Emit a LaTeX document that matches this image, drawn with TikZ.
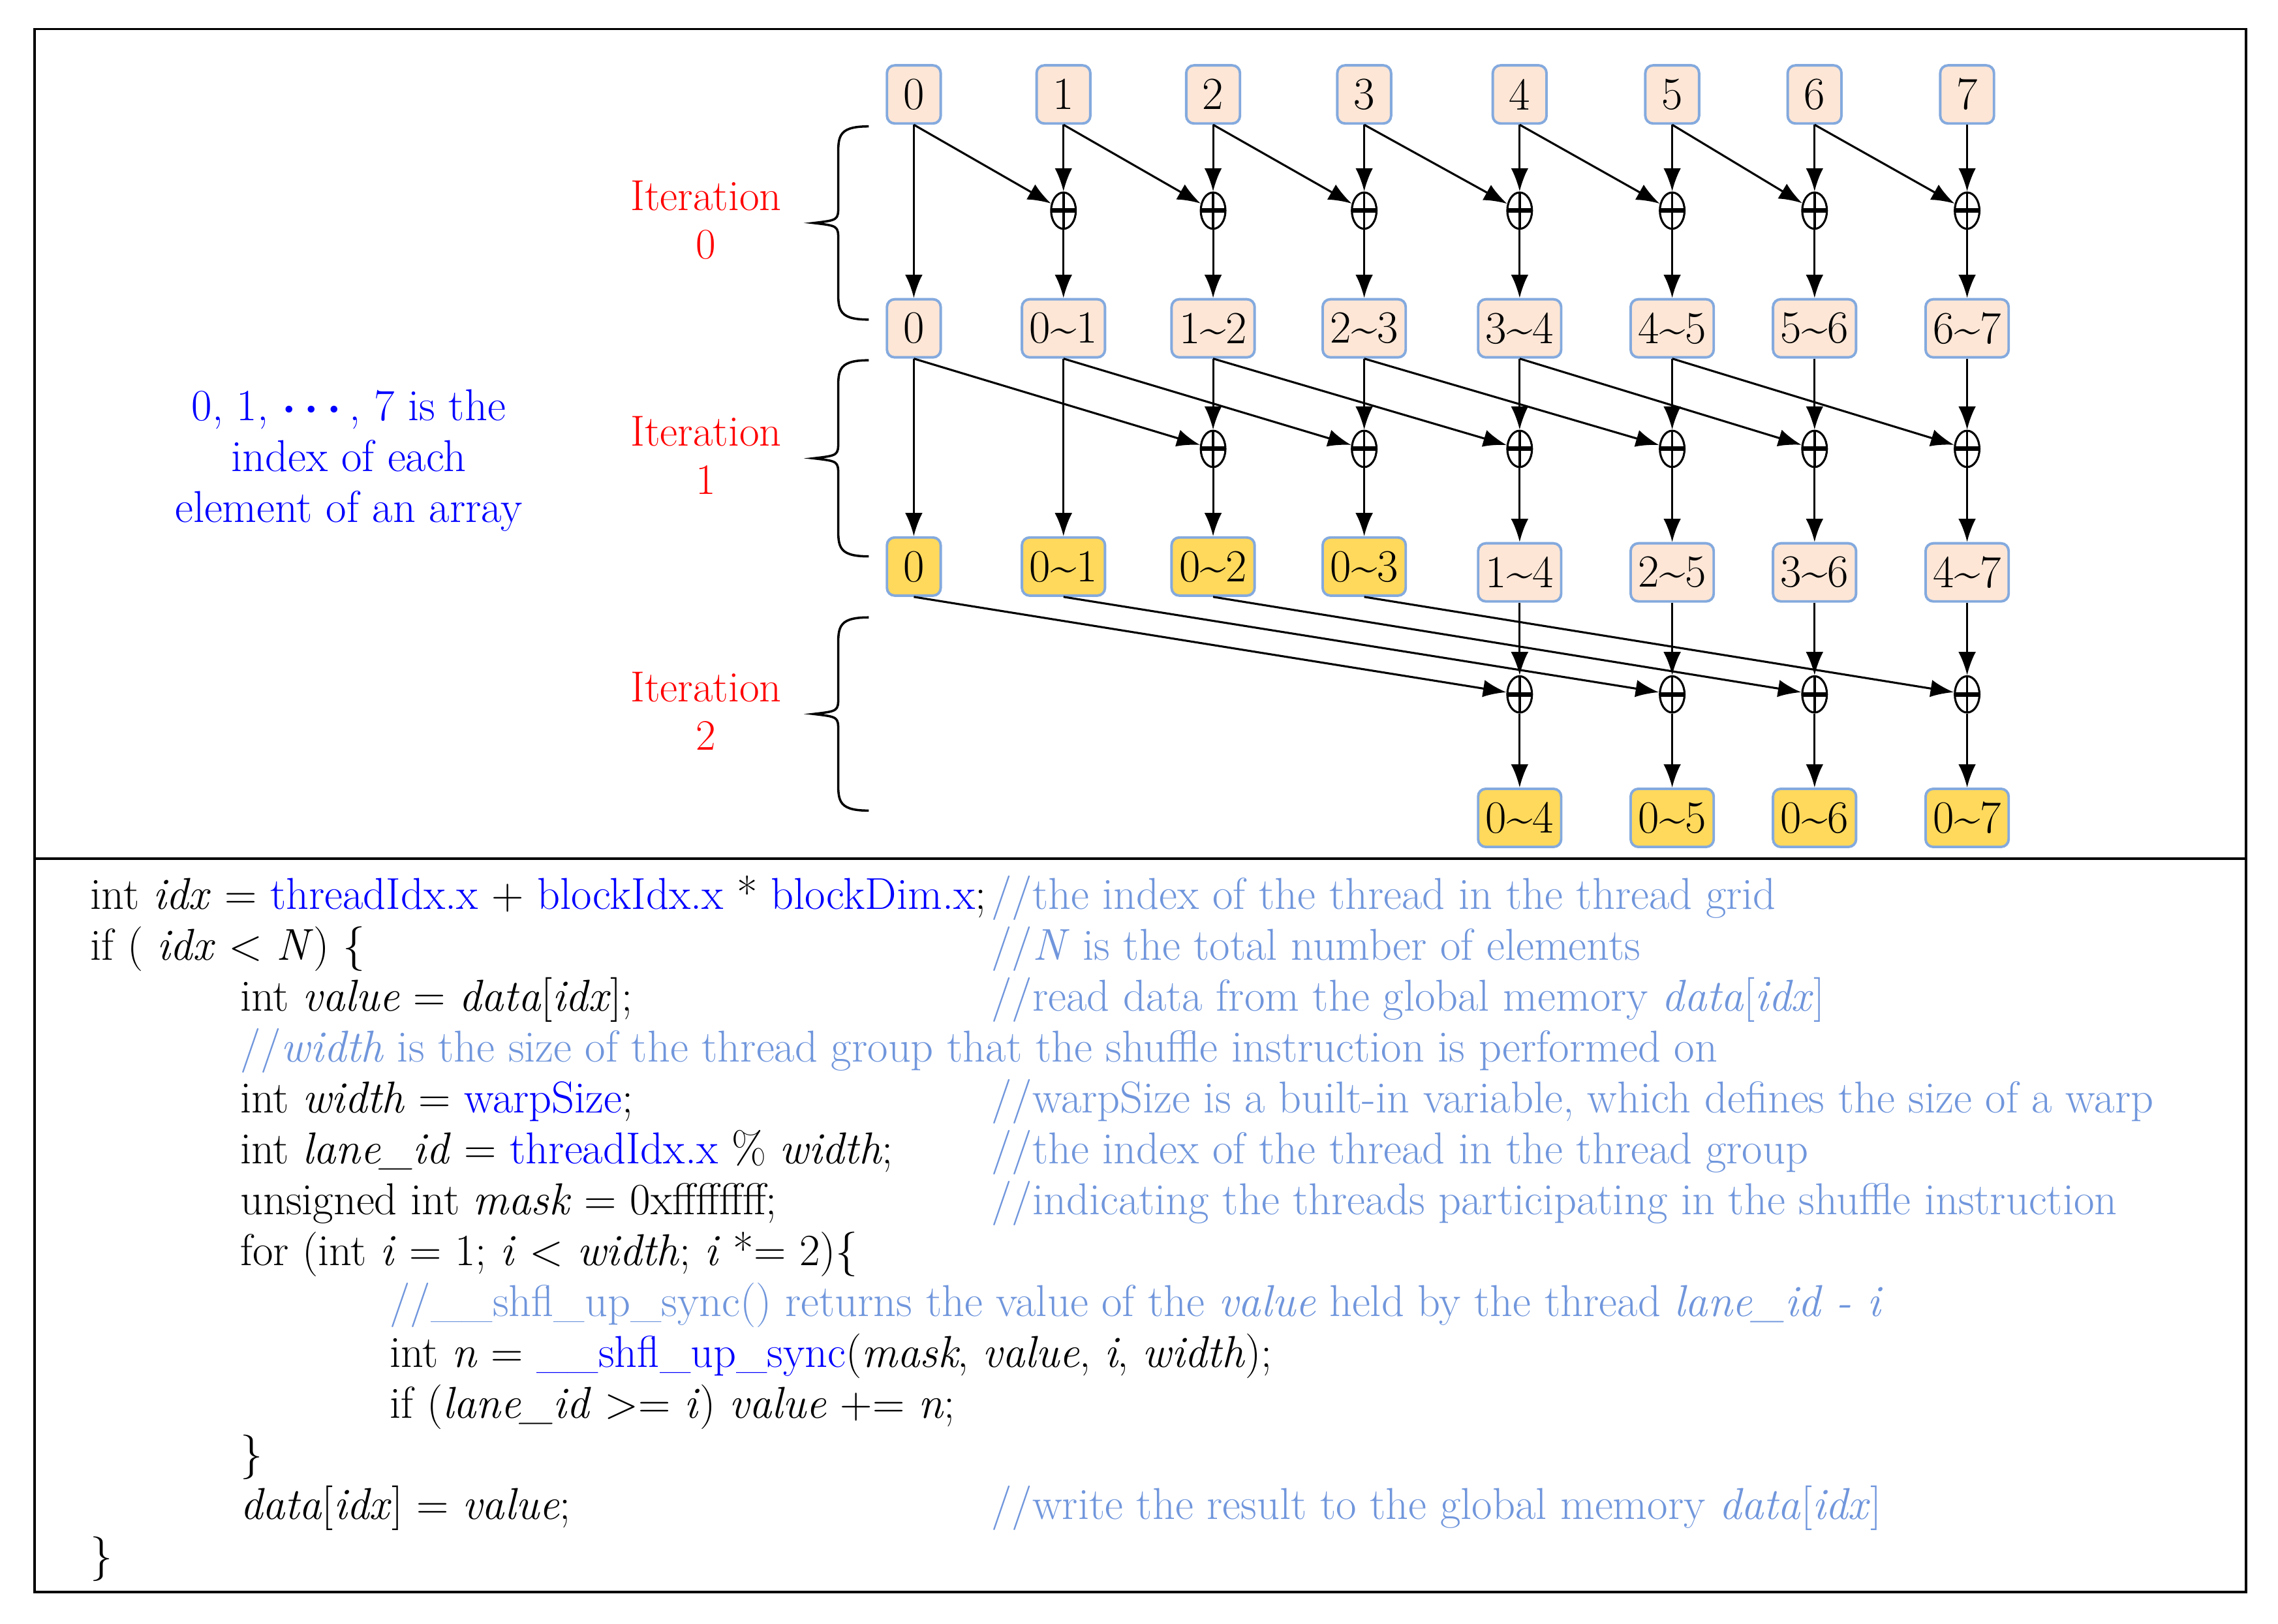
\documentclass[tikz,border=0pt]{standalone}
\usepackage{amsmath}
\usetikzlibrary{arrows.meta,shapes.geometric}
\definecolor{peach}{RGB}{253,230,214}
\definecolor{gold}{RGB}{255,217,92}
\definecolor{edgeblue}{RGB}{132,170,222}
\definecolor{cmt}{RGB}{112,150,220}
\definecolor{kw}{RGB}{0,0,255}
\begin{document}
\begin{tikzpicture}[x=0.02cm,y=-0.02cm,
  cell/.style={draw=edgeblue,line width=1pt,fill=peach,rounded corners=3pt,minimum width=0.74cm,minimum height=0.8cm,inner sep=3pt,font=\fontsize{18}{18}\selectfont},
  done/.style={cell,fill=gold},
  plus/.style={ellipse,draw,line width=0.8pt,minimum width=0.34cm,minimum height=0.5cm,inner sep=0pt,
    path picture={\draw[line width=1.8pt] ([xshift=-0.16cm]path picture bounding box.center) -- ([xshift=0.16cm]path picture bounding box.center);
      \draw[line width=0.9pt] ([yshift=-0.25cm]path picture bounding box.center) -- ([yshift=0.25cm]path picture bounding box.center);}},
  arr/.style={-{Latex[length=3.2mm,width=2.4mm]},line width=0.8pt},
  iter/.style={red,align=center,font=\fontsize{17}{19}\selectfont},
  code/.style={anchor=base west,inner sep=0pt,font=\fontsize{17.5}{20}\selectfont},
  note/.style={code,text=cmt}]
\useasboundingbox (0,0) rectangle (1568,1117.5);
\draw[line width=1pt] (24,20) rectangle (1546,1096);
\draw[line width=1pt] (24,591) -- (1546,591);
% columns
\foreach \i/\x in {0/629,1/732,2/835,3/939,4/1046,5/1151,6/1249,7/1354}{
  \node[cell] (t\i) at (\x,65) {\i};
  \ifnum\i=0 \node[cell] (a\i) at (\x,226) {0};
  \else \pgfmathtruncatemacro{\j}{\i-1}\node[cell] (a\i) at (\x,226) {\j\textasciitilde\i}; \fi
  \ifnum\i=0 \node[done] (b\i) at (\x,390) {0};
  \else\ifnum\i<4 \node[done] (b\i) at (\x,390) {0\textasciitilde\i};
  \else \pgfmathtruncatemacro{\j}{\i-3}\node[cell] (b\i) at (\x,394) {\j\textasciitilde\i}; \fi\fi
  \ifnum\i>0 \node[plus] (pa\i) at (\x,145) {}; \fi
  \ifnum\i>1 \node[plus] (pb\i) at (\x,309) {}; \fi
  \ifnum\i>3 \node[plus] (pc\i) at (\x,478) {};
    \node[done] (c\i) at (\x,563) {0\textasciitilde\i}; \fi
}
% iteration 0
\draw[arr] (t0) -- (a0);
\foreach \i [evaluate=\i as \j using int(\i-1)] in {1,...,7}{
  \draw[arr] (t\i) -- (pa\i);
  \draw[arr] (pa\i) -- (a\i);
  \draw[arr] (t\j.south) -- (pa\i);
}
% iteration 1
\draw[arr] (a0) -- (b0);
\draw[arr] (a1) -- (b1);
\foreach \i [evaluate=\i as \j using int(\i-2)] in {2,...,7}{
  \draw[arr] (a\i) -- (pb\i);
  \draw[arr] (pb\i) -- (b\i);
  \draw[arr] (a\j.south) -- (pb\i);
}
% iteration 2
\foreach \i [evaluate=\i as \j using int(\i-4)] in {4,...,7}{
  \draw[arr] (b\i) -- (pc\i);
  \draw[arr] (pc\i) -- (c\i);
  \draw[arr] (b\j.south) -- (pc\i);
}
% braces and labels
\foreach \k/\ya/\yb in {0/87/220,1/248/383,2/425/558}{
  \draw[line width=0.9pt] (598,\ya) .. controls (575,\ya) and (577,\ya+8) .. (577,\ya+25)
    -- (577,{(\ya+\yb)/2-12}) .. controls (577,{(\ya+\yb)/2-2}) .. (560,{(\ya+\yb)/2})
    .. controls (577,{(\ya+\yb)/2+2}) .. (577,{(\ya+\yb)/2+12})
    -- (577,\yb-25) .. controls (577,\yb-8) and (575,\yb) .. (598,\yb);
  \node[iter] (it\k) at (486,{(\ya+\yb)/2-2}) {Iteration\\\k};
}
\node[kw,align=center,font=\fontsize{17.5}{20}\selectfont] (idx) at (240,317) {0, 1, $\boldsymbol{\cdots}$, 7 is the\\index of each\\element of an array};
% code
\node[code] (l1) at (62,626) {int \textit{idx} = {\color{kw}threadIdx.x} + {\color{kw}blockIdx.x} * {\color{kw}blockDim.x};};
\node[note] (n1) at (682,626) {//the index of the thread in the thread grid};
\node[code] (l2) at (62,661) {if ( \textit{idx} < \textit{N}) \{};
\node[note] (n2) at (682,661) {//\textit{N} is the total number of elements};
\node[code] (l3) at (165,696) {int \textit{value} = \textit{data}[\textit{idx}];};
\node[note] (n3) at (682,696) {//read data from the global memory \textit{data}[\textit{idx}]};
\node[note] (n4) at (165,731) {//\textit{width} is the size of the thread group that the shuffle instruction is performed on};
\node[code] (l5) at (165,766) {int \textit{width} = {\color{kw}warpSize};};
\node[note] (n5) at (682,766) {//warpSize is a built-in variable, which defines the size of a warp};
\node[code] (l6) at (165,801) {int \textit{lane\_id} = {\color{kw}threadIdx.x} \% \textit{width};};
\node[note] (n6) at (682,801) {//the index of the thread in the thread group};
\node[code] (l7) at (165,836) {unsigned int \textit{mask} = 0xffffffff;};
\node[note] (n7) at (682,836) {//indicating the threads participating in the shuffle instruction};
\node[code] (l8) at (165,871) {for (int \textit{i} = 1; \textit{i} < \textit{width}; \textit{i} *= 2)\{};
\node[note] (n9) at (268,906) {//\_\_shfl\_up\_sync() returns the value of the \textit{value} held by the thread \textit{lane\_id - i}};
\node[code] (l10) at (268,941) {int \textit{n} = {\color{kw}\_\_shfl\_up\_sync}(\textit{mask}, \textit{value}, \textit{i}, \textit{width});};
\node[code] (l11) at (268,976) {if (\textit{lane\_id} >= \textit{i}) \textit{value} += \textit{n};};
\node[code] (l12) at (165,1011) {\}};
\node[code] (l13) at (165,1046) {\textit{data}[\textit{idx}] = \textit{value};};
\node[note] (n13) at (682,1046) {//write the result to the global memory \textit{data}[\textit{idx}]};
\node[code] (l14) at (62,1081) {\}};
\end{tikzpicture}
\end{document}
